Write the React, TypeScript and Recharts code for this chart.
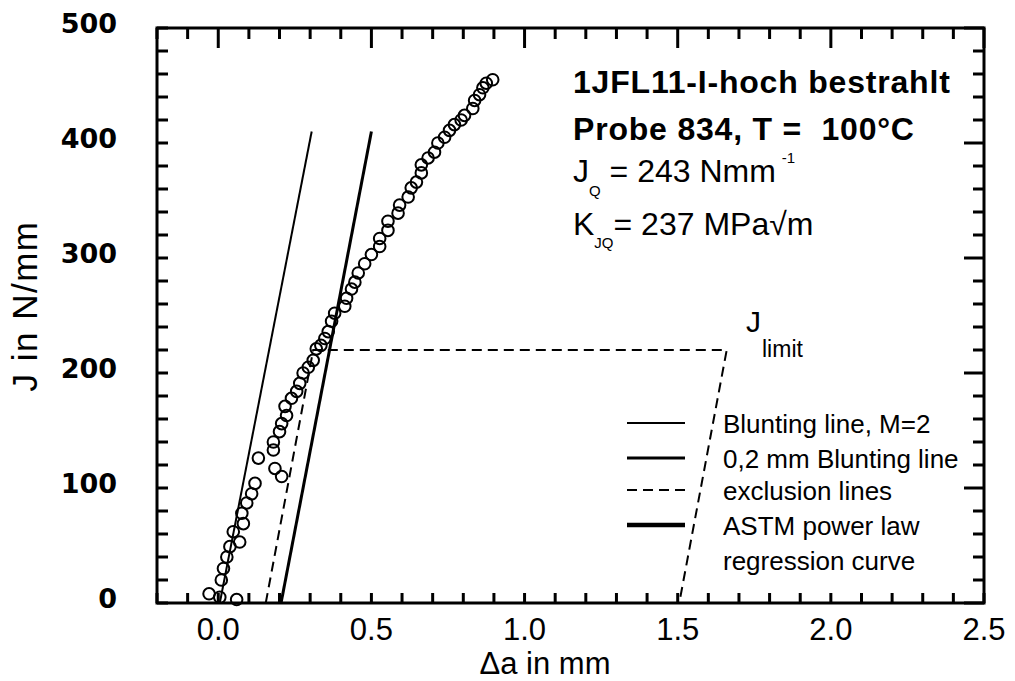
import React from 'react'
import { ComposedChart, Line, Scatter, XAxis, YAxis, ReferenceArea } from 'recharts'

// J-R measurement points (crack extension in mm, J in N/mm)
const crackGrowth = [
  -0.03, 0.005, 0.06, 0.01, 0.017, 0.028, 0.038, 0.049, 0.07, 0.077, 0.082, 0.093, 0.109, 0.12,
  0.131, 0.18, 0.185, 0.207, 0.18, 0.2, 0.207, 0.218, 0.223, 0.239, 0.256, 0.266, 0.277, 0.294,
  0.31, 0.32, 0.335, 0.348, 0.359, 0.37, 0.38, 0.413, 0.419, 0.435, 0.446, 0.457, 0.478, 0.5,
  0.527, 0.527, 0.554, 0.554, 0.587, 0.592, 0.62, 0.63, 0.647, 0.663, 0.663, 0.685, 0.706, 0.717,
  0.739, 0.755, 0.771, 0.793, 0.804, 0.831, 0.837, 0.853, 0.864, 0.875, 0.896,
]
const jIntegral = [
  8, 5, 3, 20, 30, 40, 49, 62, 53, 78, 69, 87, 95, 104,
  126, 133, 117, 110, 140, 149, 156, 171, 163, 178, 184, 191, 200, 205,
  211, 221, 224, 230, 236, 245, 252, 258, 265, 273, 279, 287, 295, 303,
  310, 317, 324, 332, 339, 346, 353, 361, 366, 374, 381, 387, 392, 400,
  405, 411, 416, 420, 424, 430, 437, 442, 448, 452, 455,
]

// construction lines
const bluntingDa = [0.005, 0.305]
const bluntingJ = [0, 410]
const offsetDa = [0.205, 0.5]
const offsetJ = [0, 410]
const exclusionDa = [0.155, 0.31, 1.66, 1.505]
const exclusionJ = [0, 220, 220, 0]

const xTicks = [
  -0.2, -0.1, 0, 0.1, 0.2, 0.3, 0.4, 0.5, 0.6, 0.7, 0.8, 0.9, 1, 1.1, 1.2, 1.3, 1.4, 1.5,
  1.6, 1.7, 1.8, 1.9, 2, 2.1, 2.2, 2.3, 2.4, 2.5,
]
const yTicks = [
  0, 20, 40, 60, 80, 100, 120, 140, 160, 180, 200, 220, 240, 260, 280, 300, 320, 340, 360,
  380, 400, 420, 440, 460, 480, 500,
]

const legendLabels = ['Blunting line, M=2', '0,2 mm Blunting line', 'exclusion lines', 'ASTM power law', 'regression curve']

const X_MIN = -0.2
const X_MAX = 2.5
const Y_MIN = 0
const Y_MAX = 500

const SANS = "'Liberation Sans', Arial, sans-serif"
const INK = '#000'

const isMajorX = (v: number) => v >= 0 && Math.abs(v * 2 - Math.round(v * 2)) < 1e-6
const isMajorY = (v: number) => v % 100 === 0

const toPoints = (xs: number[], ys: number[]) => xs.map((da, i) => ({ da, j: ys[i] }))

const points = toPoints(crackGrowth, jIntegral)
const blunting = toPoints(bluntingDa, bluntingJ)
const offset = toPoints(offsetDa, offsetJ)
const exclusion = toPoints(exclusionDa, exclusionJ)

// anchor points for the inward frame ticks on each side
const bottomTicks = xTicks.map((da) => ({ da, j: Y_MIN, major: isMajorX(da) }))
const topTicks = xTicks.map((da) => ({ da, j: Y_MAX, major: isMajorX(da) }))
const leftTicks = yTicks.map((j) => ({ da: X_MIN, j, major: isMajorY(j) }))
const rightTicks = yTicks.map((j) => ({ da: X_MAX, j, major: isMajorY(j) }))

type Side = 'bottom' | 'top' | 'left' | 'right'

const edgeTick = (side: Side) => (p: any) => {
  const major = p.payload?.major
  const len = side === 'bottom' ? 10 : side === 'left' ? 11 : major ? 20 : 11
  const { cx, cy } = p
  const end = {
    bottom: [cx, cy - len],
    top: [cx, cy + len],
    left: [cx + len, cy],
    right: [cx - len, cy],
  }[side]
  return <line x1={cx} y1={cy} x2={end[0]} y2={end[1]} stroke={INK} strokeWidth={3} />
}

function BottomTick({ x, y, payload }: any) {
  const v = payload.value
  if (!isMajorX(v)) return <g />
  return (
    <text x={x} y={y + 37} textAnchor="middle" fontSize={31} fontFamily={SANS} fill={INK}>
      {v.toFixed(1)}
    </text>
  )
}

function LeftTick({ x, y, payload }: any) {
  const v = payload.value
  if (!isMajorY(v)) return <g />
  return (
    <text x={x - 40} y={y + 5} textAnchor="end" fontSize={27} fontWeight="bold" fontFamily="'DejaVu Sans', sans-serif" fill={INK}>
      {v}
    </text>
  )
}

const Ring = (p: any) => <circle cx={p.cx} cy={p.cy} r={5.8} fill="none" stroke={INK} strokeWidth={2} />

const ids = { xAxisId: 'b', yAxisId: 'l' }

function Annotations() {
  const rows = [423, 458, 490, 525, 560]
  return (
    <svg width={1015} height={681} style={{ position: 'absolute', left: 0, top: 0, pointerEvents: 'none' }}>
      <g fontFamily={SANS} fill={INK}>
        <text x={573} y={93} fontSize={32} fontWeight="bold" letterSpacing={0.8}>1JFL11-I-hoch bestrahlt</text>
        <text x={573} y={140} fontSize={32} fontWeight="bold" letterSpacing={0.8} style={{ whiteSpace: 'pre' }}>Probe 834, T =  100°C</text>
        <text x={573} y={182} fontSize={32}>
          J<tspan fontSize={15} dy={14}>Q</tspan>
          <tspan dy={-14}> = 243 Nmm</tspan>
          <tspan fontSize={15} dx={6} dy={-19}>-1</tspan>
        </text>
        <text x={573} y={235} fontSize={32}>
          K<tspan fontSize={15} dy={13}>JQ</tspan>
          <tspan dy={-13}>= 237 MPa√m</tspan>
        </text>
        <text x={746} y={332} fontSize={30}>
          J<tspan fontSize={23} dx={1} dy={25}>limit</tspan>
        </text>

        {/* legend */}
        <line x1={627} x2={685} y1={rows[0]} y2={rows[0]} stroke={INK} strokeWidth={2} />
        <line x1={627} x2={685} y1={rows[1]} y2={rows[1]} stroke={INK} strokeWidth={3} />
        <line x1={627} x2={685} y1={rows[2]} y2={rows[2]} stroke={INK} strokeWidth={2} strokeDasharray="10 6" />
        <line x1={627} x2={685} y1={rows[3]} y2={rows[3]} stroke={INK} strokeWidth={4.5} />
        {legendLabels.map((label, i) => (
          <text key={label} x={723} y={rows[i] + 9.5} fontSize={26}>{label}</text>
        ))}

        {/* axis titles */}
        <text x={545} y={674} fontSize={31} textAnchor="middle">Δa in mm</text>
        <text transform="translate(37, 306) rotate(-90)" fontSize={35} letterSpacing={1.5} textAnchor="middle">J in N/mm</text>
      </g>
    </svg>
  )
}

export default function App() {
  return (
    <div style={{ position: 'absolute', left: 0, top: 0, width: 1015, height: 681, background: '#fff' }}>
      <ComposedChart width={1015} height={681} margin={{ top: 28, right: 31, bottom: 0, left: 0 }}>
        <XAxis
          xAxisId="b" type="number" dataKey="da" domain={[X_MIN, X_MAX]} ticks={xTicks} interval={0}
          height={78} tickSize={0} tickMargin={0} tickLine={false} axisLine={false}
          tick={<BottomTick />}
        />
        <YAxis
          yAxisId="l" type="number" dataKey="j" domain={[Y_MIN, Y_MAX]} ticks={yTicks} interval={0}
          width={157} tickSize={0} tickMargin={0} tickLine={false} axisLine={false}
          tick={<LeftTick />}
        />

        {/* plot frame */}
        <ReferenceArea {...ids} x1={X_MIN} x2={X_MAX} y1={Y_MIN} y2={Y_MAX} ifOverflow="visible" fill="none" fillOpacity={0} stroke={INK} strokeWidth={3} strokeOpacity={1} />

        <Line {...ids} data={blunting} dataKey="j" stroke={INK} strokeWidth={2} dot={false} isAnimationActive={false} />
        <Line {...ids} data={offset} dataKey="j" stroke={INK} strokeWidth={3} dot={false} isAnimationActive={false} />
        <Line {...ids} data={exclusion} dataKey="j" stroke={INK} strokeWidth={2} strokeDasharray="10 6" dot={false} isAnimationActive={false} />
        <Scatter {...ids} data={points} dataKey="j" shape={Ring} isAnimationActive={false} />

        {/* inward ticks on all four sides of the frame */}
        <Scatter {...ids} data={bottomTicks} dataKey="j" shape={edgeTick('bottom')} isAnimationActive={false} />
        <Scatter {...ids} data={topTicks} dataKey="j" shape={edgeTick('top')} isAnimationActive={false} />
        <Scatter {...ids} data={leftTicks} dataKey="j" shape={edgeTick('left')} isAnimationActive={false} />
        <Scatter {...ids} data={rightTicks} dataKey="j" shape={edgeTick('right')} isAnimationActive={false} />
      </ComposedChart>
      <Annotations />
    </div>
  )
}
